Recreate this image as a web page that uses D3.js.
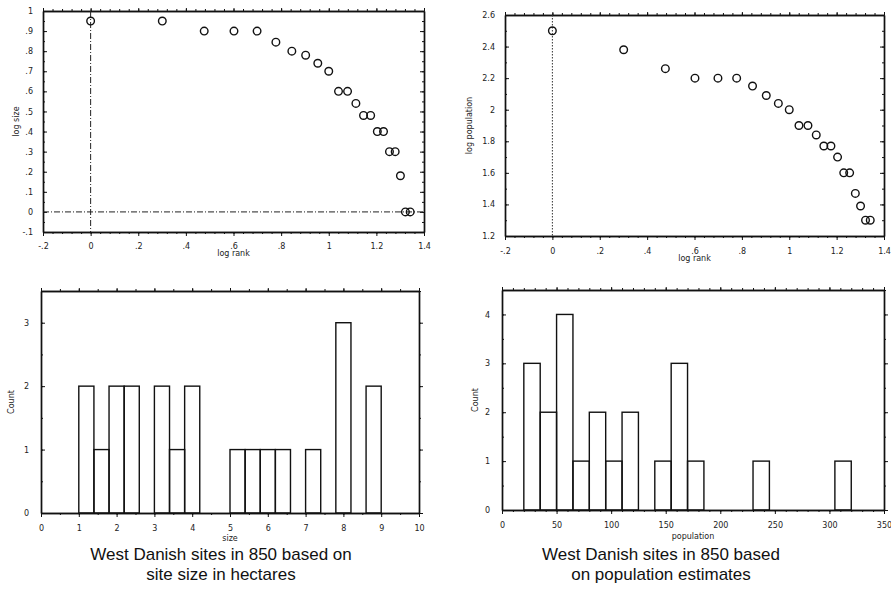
<!DOCTYPE html>
<html><head><meta charset="utf-8">
<script src="https://cdn.jsdelivr.net/npm/d3@7"></script>
<style>
body{margin:0;background:#fff;}
svg{display:block;}
.tick text{font-family:"DejaVu Sans",sans-serif;font-size:8px;fill:#222;}
.axlab{font-family:"DejaVu Sans",sans-serif;font-size:8px;fill:#222;}
.caption{font-family:"Liberation Sans",Arial,sans-serif;font-size:17px;fill:#111;}
</style></head>
<body>
<script>
// ---- data ----
const logRank = [0, 0.301, 0.477, 0.602, 0.699, 0.778, 0.845, 0.903, 0.954, 1.0, 1.041,
  1.079, 1.114, 1.146, 1.176, 1.204, 1.230, 1.255, 1.279, 1.301, 1.322, 1.342];
const logSize = [0.95, 0.95, 0.90, 0.90, 0.90, 0.845, 0.80, 0.78, 0.74, 0.70, 0.60,
  0.60, 0.54, 0.48, 0.48, 0.40, 0.40, 0.30, 0.30, 0.18, 0.0, 0.0];
const logPop = [2.50, 2.38, 2.26, 2.20, 2.20, 2.20, 2.15, 2.09, 2.04, 2.00, 1.90,
  1.90, 1.84, 1.77, 1.77, 1.70, 1.60, 1.60, 1.47, 1.39, 1.30, 1.30];

const sizeBinStart = [1.0, 1.4, 1.8, 2.2, 3.0, 3.4, 3.8, 5.0, 5.4, 5.8, 6.2, 7.0, 7.8, 8.6];
const sizeCount    = [2, 1, 2, 2, 2, 1, 2, 1, 1, 1, 1, 1, 3, 2];
const sizeBinWidth = 0.4;

const popBinStart = [20, 35, 50, 65, 80, 95, 110, 140, 155, 170, 230, 305];
const popCount    = [3, 2, 4, 1, 2, 1, 2, 1, 3, 1, 1, 1];
const popBinWidth = 15;

// tick values & labels
const rankTicks = [-0.2, 0, 0.2, 0.4, 0.6, 0.8, 1.0, 1.2, 1.4];
const rankTickLabels = ["-.2", "0", ".2", ".4", ".6", ".8", "1", "1.2", "1.4"];
const logSizeTicks = [-0.1, 0, 0.1, 0.2, 0.3, 0.4, 0.5, 0.6, 0.7, 0.8, 0.9, 1.0];
const logSizeTickLabels = ["-.1", "0", ".1", ".2", ".3", ".4", ".5", ".6", ".7", ".8", ".9", "1"];
const logPopTicks = [1.2, 1.4, 1.6, 1.8, 2.0, 2.2, 2.4, 2.6];
const logPopTickLabels = ["1.2", "1.4", "1.6", "1.8", "2", "2.2", "2.4", "2.6"];
const sizeTicks = [0, 1, 2, 3, 4, 5, 6, 7, 8, 9, 10];
const sizeTickLabels = ["0", "1", "2", "3", "4", "5", "6", "7", "8", "9", "10"];
const countSizeTicks = [0, 1, 2, 3];
const countSizeTickLabels = ["0", "1", "2", "3"];
const popTicks = [0, 50, 100, 150, 200, 250, 300, 350];
const popTickLabels = ["0", "50", "100", "150", "200", "250", "300", "350"];
const countPopTicks = [0, 1, 2, 3, 4];
const countPopTickLabels = ["0", "1", "2", "3", "4"];

const captions = [
  ["West Danish sites in 850 based on", "site size in hectares"],
  ["West Danish sites in 850 based", "on population estimates"]
];

// ---- drawing ----
const W = 891, H = 589;
const svg = d3.select("body").append("svg").attr("width", W).attr("height", H);

function minorTicks(domain, step) {
  const out = [];
  const n = Math.round((domain[1] - domain[0]) / step);
  for (let i = 0; i <= n; i++) out.push(domain[0] + i * step);
  return out;
}

function frame(x, y, opt) {
  const g = svg.append("g");
  const [x0, x1] = x.range();
  const [y0, y1] = y.range(); // y0 bottom, y1 top
  const xm = minorTicks(x.domain(), opt.xMinor);
  const ym = minorTicks(y.domain(), opt.yMinor);
  g.append("g").attr("transform", `translate(0,${y0})`)
    .call(d3.axisBottom(x).tickValues(opt.xTicks).tickFormat((d, i) => opt.xLabels[i]).tickSize(4).tickSizeOuter(0).tickPadding(opt.xPad));
  g.append("g").attr("transform", `translate(0,${y0})`)
    .call(d3.axisBottom(x).tickValues(xm).tickFormat("").tickSize(2).tickSizeOuter(0));
  g.append("g").attr("transform", `translate(0,${y1})`)
    .call(d3.axisTop(x).tickValues(opt.xTicks).tickFormat("").tickSize(3).tickSizeOuter(0));
  g.append("g").attr("transform", `translate(0,${y1})`)
    .call(d3.axisTop(x).tickValues(xm).tickFormat("").tickSize(2).tickSizeOuter(0));
  g.append("g").attr("transform", `translate(${x0},0)`)
    .call(d3.axisLeft(y).tickValues(opt.yTicks).tickFormat((d, i) => opt.yLabels[i]).tickSize(-4).tickSizeOuter(0).tickPadding(opt.yPad));
  g.append("g").attr("transform", `translate(${x0},0)`)
    .call(d3.axisLeft(y).tickValues(ym).tickFormat("").tickSize(-2).tickSizeOuter(0));
  g.append("g").attr("transform", `translate(${x1},0)`)
    .call(d3.axisRight(y).tickValues(opt.yTicks).tickFormat("").tickSize(opt.rightOut ? 4 : -4).tickSizeOuter(0));
  g.append("g").attr("transform", `translate(${x1},0)`)
    .call(d3.axisRight(y).tickValues(ym).tickFormat("").tickSize(opt.rightOut ? 2 : -2).tickSizeOuter(0));
  g.selectAll(".domain").attr("stroke", "#111").attr("stroke-width", 1.4);
  g.selectAll(".tick line").attr("stroke", "#111").attr("stroke-width", 1);
  g.append("text").attr("class", "axlab").attr("x", (x0 + x1) / 2).attr("y", y0 + opt.xTitleDy)
    .attr("text-anchor", "middle").text(opt.xTitle);
  g.append("text").attr("class", "axlab")
    .attr("transform", `translate(${x0 - opt.yTitleDx},${(y0 + y1) / 2}) rotate(-90)`)
    .attr("text-anchor", "middle").text(opt.yTitle);
  return g;
}

// Panel 1: log size vs log rank
{
  const x = d3.scaleLinear().domain([-0.2, 1.4]).range([43, 424]);
  const y = d3.scaleLinear().domain([-0.1, 1.0]).range([232, 11]);
  const g = frame(x, y, {xTicks: rankTicks, xLabels: rankTickLabels, yTicks: logSizeTicks, yLabels: logSizeTickLabels,
    xMinor: 0.04, yMinor: 0.05, xTitle: "log rank", yTitle: "log size", xTitleDy: 24, yTitleDx: 24,
    xPad: 7, yPad: 10});
  g.append("line").attr("x1", x(0)).attr("x2", x(0)).attr("y1", y(1.0)).attr("y2", y(-0.1))
    .attr("stroke", "#222").attr("stroke-width", 1).attr("stroke-dasharray", "6,2,1,2");
  g.append("line").attr("x1", x(-0.2)).attr("x2", x(1.4)).attr("y1", y(0)).attr("y2", y(0))
    .attr("stroke", "#222").attr("stroke-width", 1).attr("stroke-dasharray", "6,2,1,2");
  g.selectAll("circle.p").data(logRank).join("circle").attr("class", "p")
    .attr("cx", d => x(d)).attr("cy", (d, i) => y(logSize[i])).attr("r", 3.8)
    .attr("fill", "none").attr("stroke", "#111").attr("stroke-width", 1.4);
}

// Panel 2: log population vs log rank
{
  const x = d3.scaleLinear().domain([-0.2, 1.4]).range([505, 884]);
  const y = d3.scaleLinear().domain([1.2, 2.6]).range([236, 15]);
  const g = frame(x, y, {xTicks: rankTicks, xLabels: rankTickLabels, yTicks: logPopTicks, yLabels: logPopTickLabels,
    xMinor: 0.04, yMinor: 0.1, xTitle: "log rank", yTitle: "log population", xTitleDy: 25, yTitleDx: 33,
    xPad: 8, yPad: 10});
  g.append("line").attr("x1", x(0)).attr("x2", x(0)).attr("y1", y(2.6)).attr("y2", y(1.2))
    .attr("stroke", "#333").attr("stroke-width", 1).attr("stroke-dasharray", "1.5,1.5");
  g.selectAll("circle.p").data(logRank).join("circle").attr("class", "p")
    .attr("cx", d => x(d)).attr("cy", (d, i) => y(logPop[i])).attr("r", 3.8)
    .attr("fill", "none").attr("stroke", "#111").attr("stroke-width", 1.4);
}

// Panel 3: size histogram
{
  const x = d3.scaleLinear().domain([0, 10]).range([41, 419]);
  const y = d3.scaleLinear().domain([0, 3.5]).range([513, 291]);
  const g = frame(x, y, {xTicks: sizeTicks, xLabels: sizeTickLabels, yTicks: countSizeTicks, yLabels: countSizeTickLabels,
    xMinor: 0.5, yMinor: 0.5, xTitle: "size", yTitle: "Count", xTitleDy: 28, yTitleDx: 27, rightOut: true,
    xPad: 8, yPad: 12});
  g.selectAll("rect.b").data(sizeBinStart).join("rect").attr("class", "b")
    .attr("x", d => x(d)).attr("width", d => x(d + sizeBinWidth) - x(d))
    .attr("y", (d, i) => y(sizeCount[i])).attr("height", (d, i) => y(0) - y(sizeCount[i]))
    .attr("fill", "none").attr("stroke", "#111").attr("stroke-width", 1.4);
}

// Panel 4: population histogram
{
  const x = d3.scaleLinear().domain([0, 350]).range([502, 884]);
  const y = d3.scaleLinear().domain([0, 4.5]).range([510, 290]);
  const g = frame(x, y, {xTicks: popTicks, xLabels: popTickLabels, yTicks: countPopTicks, yLabels: countPopTickLabels,
    xMinor: 10, yMinor: 0.5, xTitle: "population", yTitle: "Count", xTitleDy: 29, yTitleDx: 24, rightOut: true,
    xPad: 8, yPad: 12});
  g.selectAll("rect.b").data(popBinStart).join("rect").attr("class", "b")
    .attr("x", d => x(d)).attr("width", d => x(d + popBinWidth) - x(d))
    .attr("y", (d, i) => y(popCount[i])).attr("height", (d, i) => y(0) - y(popCount[i]))
    .attr("fill", "none").attr("stroke", "#111").attr("stroke-width", 1.4);
}

// captions
const capX = [221, 661];
captions.forEach((lines, k) => {
  lines.forEach((t, j) => {
    svg.append("text").attr("class", "caption").attr("x", capX[k]).attr("y", 560 + j * 20)
      .attr("text-anchor", "middle").text(t);
  });
});
</script>
</body></html>
